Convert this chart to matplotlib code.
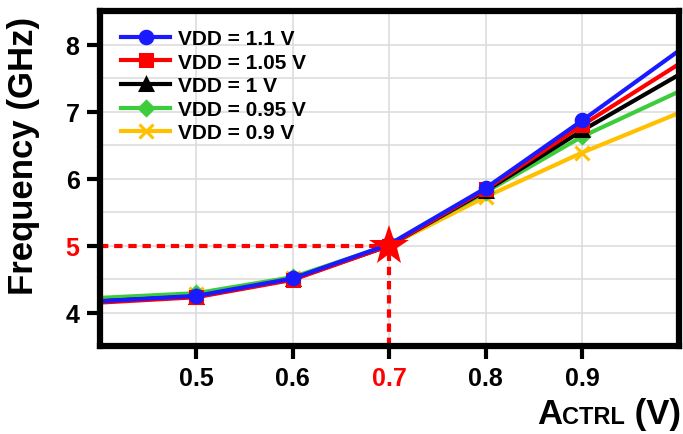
import matplotlib
matplotlib.use("Agg")
import matplotlib.pyplot as plt
from matplotlib.offsetbox import TextArea, HPacker, AnchoredOffsetbox

plt.rcParams['font.family'] = ['Liberation Sans', 'DejaVu Sans']
plt.rcParams['font.weight'] = 'bold'

# Control voltage sweep (V)
actrl = [0.4, 0.5, 0.6, 0.7, 0.8, 0.9, 1.0]

# Oscillation frequency (GHz) per supply voltage
freq_110 = [4.17, 4.25, 4.51, 5.02, 5.86, 6.87, 7.91]
freq_105 = [4.15, 4.23, 4.49, 5.00, 5.84, 6.80, 7.71]
freq_100 = [4.17, 4.24, 4.50, 5.00, 5.82, 6.72, 7.55]
freq_095 = [4.22, 4.29, 4.53, 5.01, 5.80, 6.63, 7.30]
freq_090 = [4.20, 4.28, 4.52, 5.00, 5.73, 6.39, 6.98]

labels = ['VDD = 1.1 V', 'VDD = 1.05 V', 'VDD = 1 V', 'VDD = 0.95 V', 'VDD = 0.9 V']
colors = ['#1a1aff', '#ff0000', '#000000', '#3ccc3c', '#ffc000']
markers = ['o', 's', '^', 'D', 'x']
series = [freq_110, freq_105, freq_100, freq_095, freq_090]

x_ticks = [0.5, 0.6, 0.7, 0.8, 0.9]
y_ticks = [4, 5, 6, 7, 8]

# Operating point
op_x, op_y = 0.7, 5.0

fig = plt.figure(figsize=(6.83, 4.35), dpi=100)
ax = fig.add_axes([0.146, 0.202, 0.848, 0.770])

marker_sizes = {'o': 9, 's': 8, '^': 8.5, 'D': 7, 'x': 10}
handles = [None] * len(series)
for i in reversed(range(len(series))):
    h, = ax.plot(actrl, series[i], color=colors[i], marker=markers[i],
                 markersize=marker_sizes[markers[i]], markeredgewidth=2.2,
                 markevery=slice(1, len(actrl) - 1),
                 linewidth=3, label=labels[i], zorder=3 + (len(series) - i))
    handles[i] = h

ax.set_xlim(0.4, 1.0)
ax.set_ylim(3.5, 8.5)

# Dashed guides to the operating point
ax.plot([0.4, op_x], [op_y, op_y], color='#ff0000', linestyle=(0, (2, 1.4)),
        linewidth=3, zorder=2, clip_on=False)
ax.plot([op_x, op_x], [3.5, op_y], color='#ff0000', linestyle=(0, (2, 1.4)),
        linewidth=3, zorder=2, clip_on=False)
ax.plot([op_x], [op_y], marker='*', color='#ff0000', markersize=30, zorder=20,
        markeredgewidth=0)

ax.set_xticks(x_ticks)
ax.set_yticks(y_ticks)
ax.set_xticklabels([f'{v:.1f}' for v in x_ticks])
ax.set_yticklabels([str(v) for v in y_ticks])
ax.set_yticks([3.5 + k for k in range(6)], minor=True)
ax.grid(True, which='both', color='#dddddd', linewidth=1.2, zorder=0)
ax.tick_params(which='minor', length=0)
ax.tick_params(which='major', direction='out', length=9.5, width=3,
               labelsize=18, pad=5)
for lbl in ax.get_xticklabels() + ax.get_yticklabels():
    lbl.set_fontweight('bold')
    if lbl.get_text() in ('0.7', '5'):
        lbl.set_color('#ff0000')
for t in ax.yaxis.get_major_ticks():
    if t.get_loc() == 5:
        t.tick1line.set_color('#ff0000')

for s in ax.spines.values():
    s.set_linewidth(4.5)
    s.set_zorder(30)

fig.text(24 / 683, 1 - 156 / 435, 'Frequency (GHz)', rotation=90,
         fontsize=25, fontweight='bold', ha='center', va='center')

# X-axis label with small-caps style subscript
big = dict(fontsize=25, fontweight='bold', color='black')
small = dict(fontsize=17, fontweight='bold', color='black')
parts = [TextArea('A', textprops=big), TextArea('CTRL', textprops=small),
         TextArea(' (V)', textprops=big)]
pack = HPacker(children=parts, align='baseline', pad=0, sep=0)
anchored = AnchoredOffsetbox(loc='lower right', child=pack, pad=0, frameon=False,
                             bbox_to_anchor=(0.997, 0.01),
                             bbox_transform=fig.transFigure, borderpad=0)
fig.add_artist(anchored)

leg = ax.legend(handles=handles, loc='upper left', frameon=False,
                prop={'weight': 'bold', 'size': 15}, handlelength=2.35,
                labelspacing=0.22, borderaxespad=0.3, handletextpad=0.35,
                bbox_to_anchor=(0.012, 0.99))
leg.set_zorder(25)

fig.savefig('out.png', dpi=100)
